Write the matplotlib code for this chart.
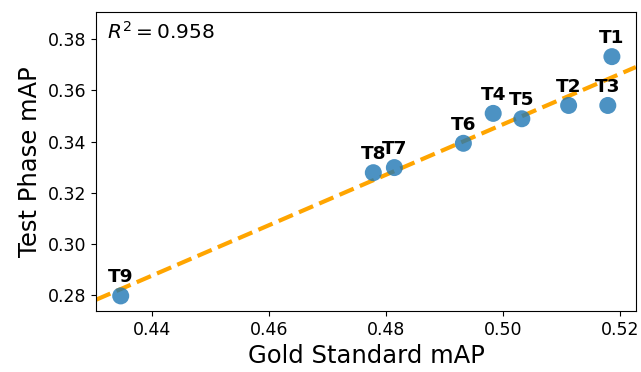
import matplotlib
matplotlib.use("Agg")
import matplotlib.pyplot as plt
import numpy as np

# Gold standard vs. test phase mAP per team
teams = ["T1", "T2", "T3", "T4", "T5", "T6", "T7", "T8", "T9"]
gold_map = [0.5186, 0.5112, 0.5179, 0.4983, 0.5032, 0.4932, 0.4814, 0.4778, 0.4346]
test_map = [0.3732, 0.3541, 0.3541, 0.3510, 0.3489, 0.3393, 0.3298, 0.3278, 0.2796]
r2_text = r"$R^2 = 0.958$"

x = np.array(gold_map)
y = np.array(test_map)
slope, intercept = np.polyfit(x, y, 1)

fig, ax = plt.subplots(figsize=(6.41, 3.72), dpi=100)
ax.scatter(x, y, s=150, color="tab:blue", alpha=0.8, zorder=3, edgecolors="none")

xlim = (0.4304, 0.5227)
xs = np.array(xlim)
ax.plot(xs, slope * xs + intercept, "--", color="orange", linewidth=3, zorder=2)

for t, xi, yi in zip(teams, x, y):
    ax.annotate(t, (xi, yi), xytext=(0, 7), textcoords="offset points",
                ha="center", va="bottom", fontsize=13.3, fontweight="bold")

ax.text(0.02, 0.97, r2_text, transform=ax.transAxes, ha="left", va="top", fontsize=14.5)

ax.set_xlim(*xlim)
ax.set_ylim(0.2737, 0.3907)
ax.set_xticks([0.44, 0.46, 0.48, 0.50, 0.52])
ax.set_yticks([0.28, 0.30, 0.32, 0.34, 0.36, 0.38])
ax.tick_params(labelsize=12.5)
ax.set_xlabel("Gold Standard mAP", fontsize=17.5)
ax.set_ylabel("Test Phase mAP", fontsize=17.5)

fig.subplots_adjust(left=0.150, right=0.992, bottom=0.164, top=0.968)
fig.savefig("out.png", dpi=100)
